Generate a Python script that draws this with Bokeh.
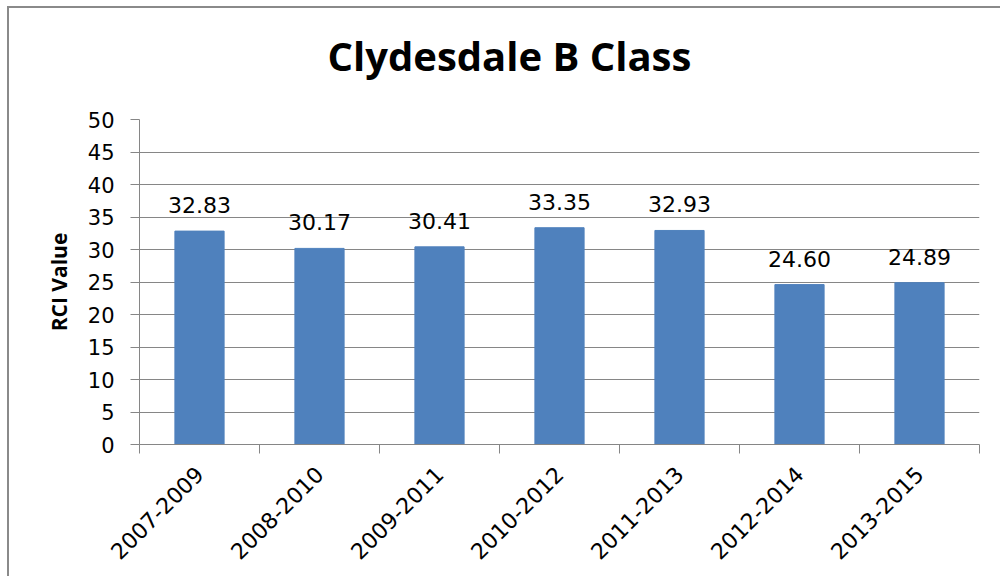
from math import pi
from bokeh.plotting import figure
from bokeh.models import ColumnDataSource, Range1d, FixedTicker, Title
from bokeh.core.properties import value
from bokeh.embed import file_html
from bokeh.resources import INLINE

categories = ["2007-2009", "2008-2010", "2009-2011", "2010-2012",
              "2011-2013", "2012-2014", "2013-2015"]
values = [32.83, 30.17, 30.41, 33.35, 32.93, 24.60, 24.89]
y_ticks = [0, 5, 10, 15, 20, 25, 30, 35, 40, 45, 50]
title_text = "Clydesdale B Class"
y_label = "RCI Value"

GRAY = "#868686"
BAR = "#4F81BD"

n = len(categories)
centers = [i + 0.5 for i in range(n)]          # slot centres on the category scale
source = ColumnDataSource(dict(x=centers, cat=categories, val=values,
                               lab=[f"{v:.2f}" for v in values]))

p = figure(x_range=Range1d(0, n), y_range=Range1d(0, 50),
           width=1000, height=580, output_backend="svg", toolbar_location=None)
p.styles = {"border-top": "2px solid #8a8a8a", "border-left": "2px solid #8a8a8a",
            "border-right": "none", "border-bottom": "none",
            "margin-left": "7px", "margin-top": "6px"}

p.min_border_left = 130
p.min_border_right = 30
p.min_border_top = 111
p.min_border_bottom = 144
p.outline_line_color = None
p.background_fill_color = "white"
p.border_fill_color = "white"

# title (outermost) + a blank spacer between title and plot area
p.title.text = title_text
p.title.align = "left"
p.title.vertical_align = "bottom"
p.title.text_font = "Open Sans"
p.title.text_font_style = "bold"
p.title.text_font_size = "40px"
p.title.text_color = "black"
p.title.offset = 188
p.title.standoff = 30
p.add_layout(Title(text=" ", text_font_size="10px", standoff=9), "above")

# y axis
yt = FixedTicker(ticks=y_ticks)
ya = p.yaxis[0]
ya.ticker = yt
ya.axis_line_color = GRAY
ya.major_tick_line_color = GRAY
ya.major_tick_out = 9
ya.major_tick_in = 0
ya.minor_tick_line_color = None
ya.major_label_text_font = "DejaVu Sans"
ya.major_label_text_font_size = "21px"
ya.major_label_text_color = "black"
ya.major_label_standoff = 16
ya.axis_label = y_label
ya.axis_label_text_font = "Open Sans"
ya.axis_label_text_font_style = "bold"
ya.axis_label_text_font_size = "21px"
ya.axis_label_text_color = "black"
ya.axis_label_standoff = 12

p.xgrid.visible = False
p.ygrid.ticker = yt
p.ygrid.grid_line_color = GRAY
p.ygrid.grid_line_width = 1

# x axis: labels at slot centres, tick marks at slot boundaries
xa = p.xaxis[0]
xa.ticker = FixedTicker(ticks=centers, minor_ticks=list(range(n + 1)))
xa.major_label_overrides = {c: lab for c, lab in zip(centers, categories)}
xa.axis_line_color = GRAY
xa.major_tick_line_color = None
xa.major_tick_out = 9
xa.major_tick_in = 0
xa.minor_tick_line_color = GRAY
xa.minor_tick_out = 9
xa.minor_tick_in = 0
xa.major_label_orientation = pi / 4
xa.major_label_text_font = "DejaVu Sans"
xa.major_label_text_font_size = "22px"
xa.major_label_text_color = "black"
xa.major_label_standoff = 17

p.vbar(x="x", top="val", width=0.41, source=source,
       fill_color=BAR, line_color=BAR)
p.text(x="x", y="val", text="lab", source=source, text_align="center",
       text_baseline="alphabetic", y_offset=-26,
       text_font=value("DejaVu Sans"), text_font_size="22px", text_color="black")

open("out.html", "w").write(file_html(p, INLINE))
